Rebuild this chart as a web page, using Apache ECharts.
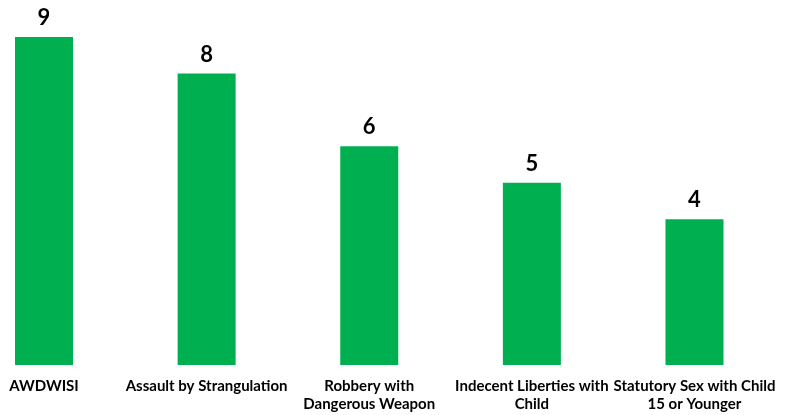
<!DOCTYPE html>
<html>
<head>
<meta charset="utf-8">
<script src="https://cdn.jsdelivr.net/npm/echarts@6/dist/echarts.min.js"></script>
<style>
html,body{margin:0;padding:0;background:#fff;}
#chart{width:789px;height:415px;}
</style>
</head>
<body>
<div id="chart"></div>
<script>
var categories = ["AWDWISI", "Assault by Strangulation", "Robbery with\nDangerous Weapon", "Indecent Liberties with\nChild", "Statutory Sex with Child\n15 or Younger"];
var values = [9, 8, 6, 5, 4];

var chart = echarts.init(document.getElementById('chart'));
chart.setOption({
  animation: false,
  grid: { left: 44, right: 94.5, top: 37, bottom: 50 },
  xAxis: {
    type: 'category',
    data: categories,
    boundaryGap: false,
    axisLine: { show: false },
    axisTick: { show: false },
    axisLabel: {
      interval: 0,
      margin: 12,
      color: '#000',
      fontFamily: 'Lato',
      fontWeight: 'bold',
      fontSize: 15,
      lineHeight: 18
    }
  },
  yAxis: {
    type: 'value',
    min: 0,
    max: 9,
    show: false,
    splitLine: { show: false }
  },
  series: [{
    type: 'bar',
    data: values,
    barWidth: 58,
    itemStyle: { color: '#00B050' },
    label: {
      show: true,
      position: 'top',
      distance: 8,
      color: '#000',
      fontFamily: 'Lato',
      fontWeight: 'bold',
      fontSize: 22
    }
  }]
});
</script>
</body>
</html>
